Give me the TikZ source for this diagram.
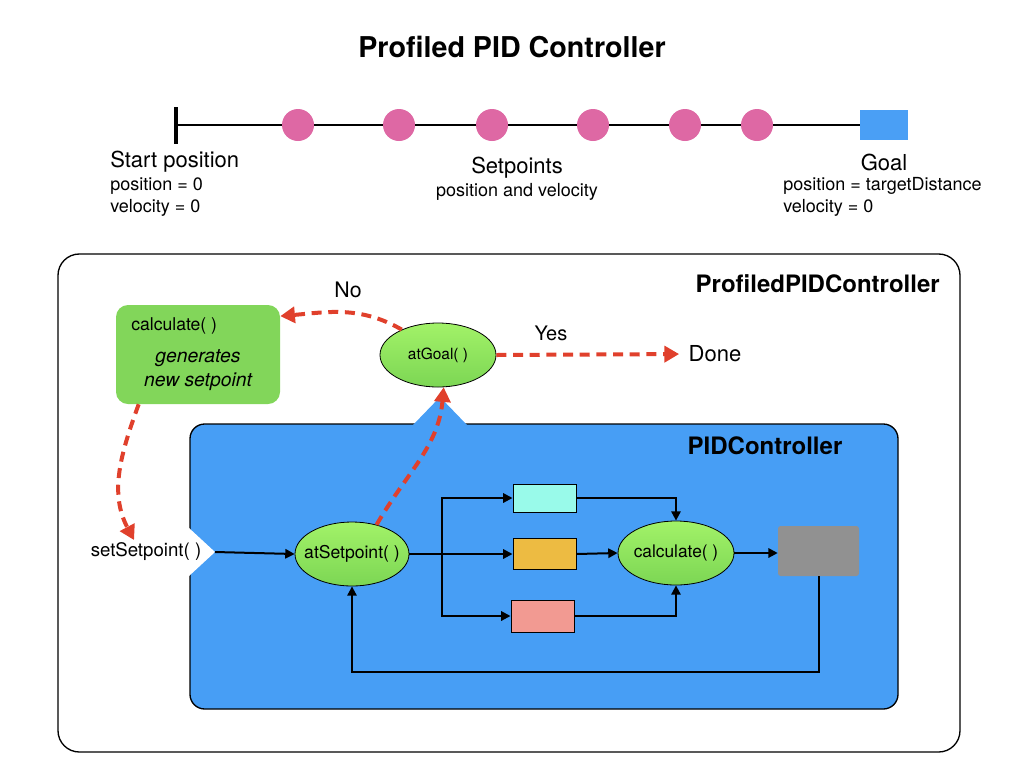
\documentclass[tikz,border=0pt]{standalone}
\usepackage{fontspec}
\setmainfont{TeX Gyre Heros}
\usetikzlibrary{arrows.meta,shapes.geometric}
\definecolor{dotpink}{RGB}{222,104,164}
\definecolor{goalblue}{RGB}{74,159,245}
\definecolor{pidblue}{RGB}{71,158,245}
\definecolor{boxgreen}{RGB}{130,214,90}
\definecolor{ovaltop}{RGB}{162,242,104}
\definecolor{ovalbottom}{RGB}{124,214,84}
\definecolor{flowred}{RGB}{224,64,44}
\definecolor{gaincyan}{RGB}{153,250,234}
\definecolor{gainorange}{RGB}{237,187,66}
\definecolor{gainsalmon}{RGB}{242,154,146}
\definecolor{plantgray}{RGB}{145,145,145}
\begin{document}
\begin{tikzpicture}[x=0.75pt,y=-0.75pt,
  heading/.style={font=\bfseries\fontsize{21.5}{26}\selectfont,inner sep=0pt},
  big/.style={font=\fontsize{16.5}{19}\selectfont,inner sep=0pt},
  small/.style={font=\fontsize{13.5}{16}\selectfont,inner sep=0pt},
  boxtitle/.style={font=\bfseries\fontsize{18}{21}\selectfont,inner sep=0pt},
  setdot/.style={circle,fill=dotpink,minimum size=24pt,inner sep=0pt},
  oval/.style={ellipse,draw,line width=0.6pt,top color=ovaltop,bottom color=ovalbottom,
    minimum width=87pt,minimum height=48pt,inner xsep=-6pt,inner ysep=0pt},
  gainbox/.style={rectangle,draw,line width=0.75pt,minimum width=47.25pt,inner sep=0pt},
  signal/.style={line width=1.5pt,-{Triangle[length=7pt,width=7pt]}},
  goalcheck/.style={draw=flowred,line width=3pt,dash pattern=on 7.5pt off 5pt,
    -{Triangle[length=11pt,width=12pt]}}]
  \useasboundingbox
    (0,0)
    rectangle
    (1024,768);
  \node[heading] (head) at (512,47) {Profiled PID Controller};
  \node[fill=black,minimum width=3pt,minimum height=27.75pt,inner sep=0pt]
    (begin) at (176,125) {};
  \node[fill=goalblue,minimum width=36pt,minimum height=22.5pt,inner sep=0pt]
    (target) at (884,125) {};
  \draw[line width=1.5pt]
    (begin)
    --
    (target);
  \node[setdot] (sp1) at (298,125) {};
  \node[setdot] (sp2) at (399,125) {};
  \node[setdot] (sp3) at (492,125) {};
  \node[setdot] (sp4) at (593,125) {};
  \node[setdot] (sp5) at (685,125) {};
  \node[setdot] (sp6) at (757,125) {};
  \node[big,anchor=west] (startlbl) at (110,162) {Start position};
  \node[small,anchor=west] (startpos) at (110,186) {position = 0};
  \node[small,anchor=west] (startvel) at (110,208) {velocity = 0};
  \node[big] (splbl) at (517,168) {Setpoints};
  \node[small] (spsub) at (517,192) {position and velocity};
  \node[big] (goallbl) at (884,162) {Goal};
  \node[small,anchor=west] (goalpos) at (783,186) {position = targetDistance};
  \node[small,anchor=west] (goalvel) at (783,208) {velocity = 0};
  \draw[line width=1pt,rounded corners=16pt]
    (58,254)
    rectangle
    (960,752);
  \node[boxtitle,anchor=east] (proflbl) at (940,284) {ProfiledPIDController};
  \draw[line width=1pt,fill=pidblue,rounded corners=11pt]
    (190,424)
    rectangle
    (898,709);
  \fill[pidblue]
    (413,425)
    --
    (440,397)
    --
    (467,425)
    -- cycle;
  \fill[white]
    (189,528)
    --
    (215,552)
    --
    (189,576)
    -- cycle;
  \coordinate (notch) at (215,552);
  \node[boxtitle] (pidlbl) at (765,446) {PIDController};
  \node[rectangle,fill=boxgreen,rounded corners=9pt,minimum width=123pt,minimum height=74.25pt]
    (calc) at (198,354.5) {};
  \node[font=\fontsize{13.2}{16}\selectfont,inner sep=0pt,anchor=west]
    (calchead) at (131,326) {calculate( )};
  \node[font=\itshape\fontsize{14.5}{18}\selectfont,inner sep=0pt,align=center]
    (calcnote) at (198,370) {generates\\new setpoint};
  \node[oval,font=\fontsize{11.6}{14}\selectfont] (goal) at (438,355) {atGoal( )};
  \node[big] (done) at (715,354) {Done};
  \node[font=\fontsize{16}{19}\selectfont,inner sep=0pt] (nolbl) at (348,290) {No};
  \node[font=\fontsize{15}{18}\selectfont,inner sep=0pt] (yeslbl) at (551,333) {Yes};
  \node[font=\fontsize{14}{17}\selectfont,inner sep=2pt] (sets) at (146,552) {setSetpoint( )};
  \node[oval,minimum width=85.5pt,font=\fontsize{13.2}{16}\selectfont]
    (sp) at (352,554) {atSetpoint( )};
  \node[gainbox,fill=gaincyan,minimum height=21pt] (ki) at (544.5,498) {};
  \node[gainbox,fill=gainorange,minimum height=23.25pt] (kp) at (544.5,554) {};
  \node[gainbox,fill=gainsalmon,minimum height=24pt] (kd) at (542.5,616) {};
  \node[oval,font=\fontsize{13}{16}\selectfont] (pidcalc) at (676,553) {calculate( )};
  \node[rectangle,fill=plantgray,rounded corners=2pt,minimum width=60.75pt,minimum height=37.5pt]
    (plant) at (818.5,551) {};
  \coordinate (split) at (442,554);
  \draw[signal]
    (notch)
    --
    (sp.west);
  \draw[line width=1.5pt]
    (sp.east)
    --
    (split);
  \draw[signal]
    (split)
    --
    (kp.west);
  \draw[signal]
    (split)
    |-
    (ki.west);
  \draw[signal]
    (split)
    |-
    (kd.west);
  \draw[signal]
    (ki.east)
    -|
    (pidcalc.north);
  \draw[signal]
    (kp.east)
    --
    (pidcalc.west);
  \draw[signal]
    (kd.east)
    -|
    (pidcalc.south);
  \draw[signal]
    (pidcalc.east)
    --
    (pidcalc.east -| plant.west);
  \draw[signal]
    (plant.south)
    --
    ++(0,96)
    -|
    (sp.south);
  \draw[goalcheck]
    (goal.145)
    to[out=150,in=5]
    (calc.25);
  \draw[goalcheck,shorten >=7pt]
    (goal.east)
    --
    (done.west);
  \draw[goalcheck]
    (calc.220)
    to[out=250,in=118]
    (sets.135);
  \draw[goalcheck]
    (sp.50)
    to[out=60,in=-95]
    (goal.-80);
\end{tikzpicture}
\end{document}
